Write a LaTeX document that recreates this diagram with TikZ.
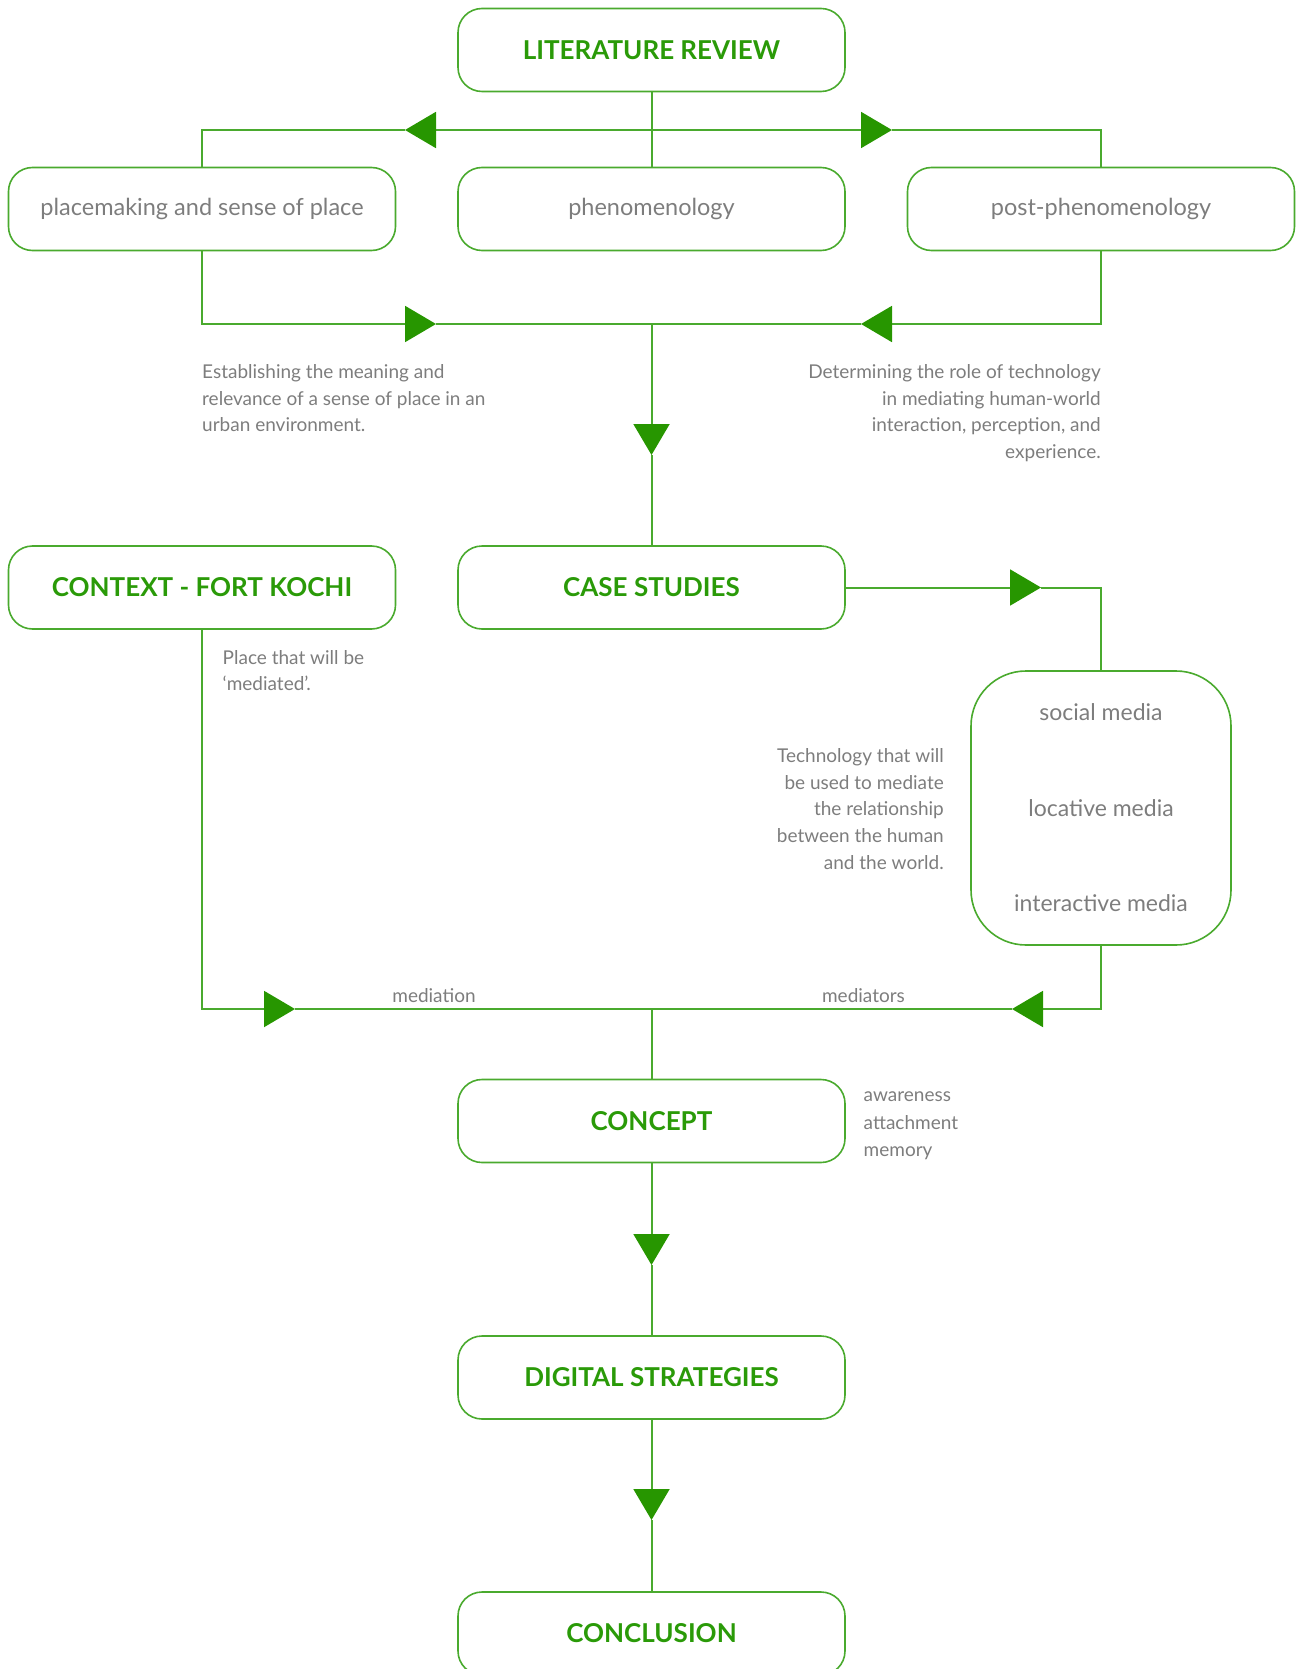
\documentclass[tikz,border=0pt]{standalone}
\usepackage{fontspec}
\setmainfont{Lato}
\usetikzlibrary{arrows.meta,calc}
\definecolor{lg}{HTML}{4AAA2E}
\definecolor{ag}{HTML}{279600}
\definecolor{tg}{HTML}{2A9A08}
\definecolor{gt}{HTML}{7D7D7D}
\begin{document}
\begin{tikzpicture}[x=1pt,y=-1pt,
  box/.style={draw=lg,line width=1.6pt,rounded corners=24pt,minimum width=387pt,minimum height=83pt,inner sep=0pt},
  title/.style={box,text=tg,font=\fontsize{26}{30}\selectfont\bfseries},
  topic/.style={box,text=gt,font=\fontsize{23.5}{28}\selectfont},
  note/.style={text=gt,font=\fontsize{19}{26.6}\selectfont,inner sep=0pt},
  conn/.style={draw=lg,line width=2pt},
  arrowmid/.style={-{Triangle[length=31pt,width=36pt,color=ag]}}
]
\useasboundingbox (0,0) rectangle (1300,1669);
\clip (0,0) rectangle (1300,1669);

% boxes
\node[title] (lr) at (651.5,50) {LITERATURE REVIEW};
\node[topic] (pm) at (202,209) {placemaking and sense of place};
\node[topic] (ph) at (651.5,209) {phenomenology};
\node[topic] (pp) at (1101,209) {post-phenomenology};
\node[title] (ctx) at (202,587.5) {CONTEXT - FORT KOCHI};
\node[title] (cs) at (651.5,587.5) {CASE STUDIES};
\node[draw=lg,line width=1.6pt,rounded corners=55pt,minimum width=260pt,minimum height=274pt,inner sep=0pt,
      text=gt,font=\fontsize{23}{95.5}\selectfont,align=center] (media) at (1101,808)
      {social media\\locative media\\interactive media};
\node[title] (cp) at (651.5,1121) {CONCEPT};
\node[title] (ds) at (651.5,1377.5) {DIGITAL STRATEGIES};
\node[title] (cl) at (651.5,1633.5) {CONCLUSION};

% notes
\node[note,anchor=north west,align=left] (n1) at (202,364.5)
  {Establishing the meaning and\\relevance of a sense of place in an\\urban environment.};
\node[note,anchor=north east,align=right] (n2) at (1101,364.5)
  {Determining the role of technology\\in mediating human-world\\interaction, perception, and\\experience.};
\node[note,anchor=north west,align=left] (n3) at (222.5,650)
  {Place that will be\\‘mediated’.};
\node[note,anchor=north east,align=right] (n4) at (944,748.5)
  {Technology that will\\be used to mediate\\the relationship\\between the human\\and the world.};
\node[note,anchor=north west,align=left,font=\fontsize{19}{27.5}\selectfont] (n5) at (863.5,1091.5)
  {awareness\\attachment\\memory};
\node[note,anchor=base] (lm1) at (434,1002) {mediation};
\node[note,anchor=base] (lm2) at (863.5,1002) {mediators};

% coordinates
\coordinate (tA) at (405,130);
\coordinate (tB) at (892,130);
\coordinate (tC) at (436,324);
\coordinate (tD) at (861,324);
\coordinate (j1) at (651.5,324);
\coordinate (tE) at (651.5,455);
\coordinate (tF) at (1041,587.5);
\coordinate (tG) at (295,1009);
\coordinate (tH) at (1012,1009);
\coordinate (j2) at (651.5,1009);
\coordinate (tI) at (651.5,1265);
\coordinate (tJ) at (651.5,1520);

% connectors
\draw[conn] (lr.south) -- (ph.north);
\draw[conn,arrowmid] (lr.south |- tA) -- (tA);
\draw[conn] (tA) -| (pm.north);
\draw[conn,arrowmid] (lr.south |- tB) -- (tB);
\draw[conn] (tB) -| (pp.north);

\draw[conn,arrowmid] (pm.south) |- (tC);
\draw[conn] (tC) -- (j1);
\draw[conn,arrowmid] (pp.south) |- (tD);
\draw[conn] (tD) -- (j1);
\draw[conn,arrowmid] (j1) -- (tE);
\draw[conn] (tE) -- (cs.north);

\draw[conn,arrowmid] (cs.east) -- (tF);
\draw[conn] (tF) -| (media.north);

\draw[conn,arrowmid] (ctx.south) |- (tG);
\draw[conn] (tG) -- (j2);
\draw[conn,arrowmid] (media.south) |- (tH);
\draw[conn] (tH) -- (j2);
\draw[conn] (j2) -- (cp.north);

\draw[conn,arrowmid] (cp.south) -- (tI);
\draw[conn] (tI) -- (ds.north);
\draw[conn,arrowmid] (ds.south) -- (tJ);
\draw[conn] (tJ) -- (cl.north);
\end{tikzpicture}
\end{document}
